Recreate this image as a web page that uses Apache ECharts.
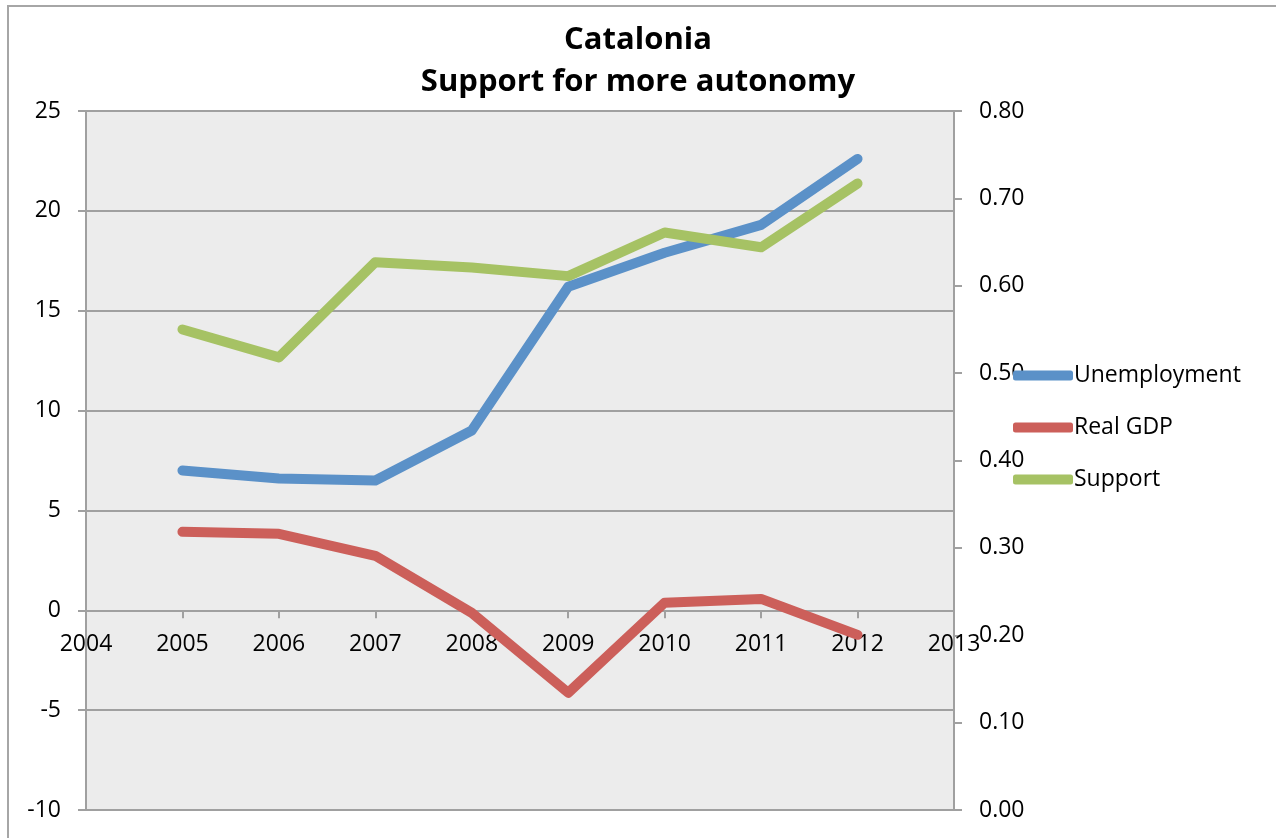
<!DOCTYPE html>
<html>
<head>
<meta charset="utf-8">
<title>Catalonia - Support for more autonomy</title>
<script src="https://cdn.jsdelivr.net/npm/echarts@6/dist/echarts.min.js"></script>
<style>
  html, body { margin: 0; padding: 0; background: #fff; overflow: hidden; }
  #frame {
    position: absolute; left: 7px; top: 5px;
    width: 1300px; height: 860px;
    border: 2px solid #a6a6a6;
  }
  #chart { position: absolute; left: 0; top: 0; width: 1276px; height: 838px; }
</style>
</head>
<body>
<div id="frame"></div>
<div id="chart"></div>
<script>
// data
const years = [2005, 2006, 2007, 2008, 2009, 2010, 2011, 2012];
const unemployment = [7.0, 6.6, 6.5, 9.0, 16.2, 17.9, 19.3, 22.6];
const realGdp = [3.93, 3.83, 2.73, -0.13, -4.13, 0.38, 0.57, -1.23];
const support = [0.550, 0.518, 0.627, 0.621, 0.611, 0.661, 0.644, 0.717];

const font = "'Open Sans', 'Noto Sans', sans-serif";
const gridColor = "#a0a0a0";

function pairs(vals) {
  return years.map((y, i) => [y, vals[i]]);
}

var chart = echarts.init(document.getElementById("chart"));
var option = {
  animation: false,
  textStyle: { fontFamily: font },
  title: {
    text: "Catalonia\nSupport for more autonomy",
    left: 633,
    textAlign: "center",
    top: 14,
    textStyle: {
      fontFamily: font,
      fontWeight: "bold",
      fontSize: 31,
      lineHeight: 42,
      color: "#000",
    },
  },
  legend: {
    orient: "vertical",
    left: 1008,
    top: 359,
    itemWidth: 60,
    itemHeight: 10,
    itemGap: 29,
    icon: "roundRect",
    textStyle: { fontFamily: font, fontSize: 23, color: "#000", padding: [0, 0, 0, -4] },
    data: ["Unemployment", "Real GDP", "Support"],
  },
  grid: {
    left: 86,
    right: 322,
    top: 111,
    bottom: 28,
    show: true,
    backgroundColor: "#ececec",
    borderWidth: 0,
    outerBoundsMode: "none",
  },
  xAxis: {
    type: "value",
    min: 2004,
    max: 2013,
    interval: 1,
    z: 0,
    // sits on the zero line of the left axis
    offset: -199.7,
    axisLine: { show: true, onZero: false, lineStyle: { color: gridColor, width: 2 } },
    axisTick: { show: true, inside: false, length: 8, lineStyle: { color: gridColor, width: 2 } },
    axisLabel: {
      color: "#000",
      fontSize: 23,
      fontFamily: font,
      margin: 23,
      formatter: (v) => String(v),
    },
    splitLine: { show: false },
  },
  yAxis: [
    {
      type: "value",
      min: -10,
      max: 25,
      interval: 5,
      axisLine: { show: true, lineStyle: { color: gridColor, width: 2 } },
      axisTick: { show: true, length: 8, lineStyle: { color: gridColor, width: 2 } },
      axisLabel: { color: "#000", fontSize: 23, fontFamily: font, margin: 25 },
      splitLine: { show: true, lineStyle: { color: gridColor, width: 2 } },
    },
    {
      type: "value",
      min: 0,
      max: 0.8,
      interval: 0.1,
      position: "right",
      axisLine: { show: true, lineStyle: { color: gridColor, width: 2 } },
      axisTick: { show: true, length: 8, lineStyle: { color: gridColor, width: 2 } },
      axisLabel: {
        color: "#000",
        fontSize: 23,
        fontFamily: font,
        margin: 25,
        formatter: (v) => v.toFixed(2),
      },
      splitLine: { show: false },
    },
  ],
  series: [
    {
      name: "Unemployment",
      type: "line",
      yAxisIndex: 0,
      data: pairs(unemployment),
      showSymbol: false,
      z: 5,
      color: "#5b91c8",
      lineStyle: { width: 10, cap: "round", join: "round" },
    },
    {
      name: "Real GDP",
      type: "line",
      yAxisIndex: 0,
      data: pairs(realGdp),
      showSymbol: false,
      z: 5,
      color: "#cc5f5a",
      lineStyle: { width: 10, cap: "round", join: "round" },
    },
    {
      name: "Support",
      type: "line",
      yAxisIndex: 1,
      data: pairs(support),
      showSymbol: false,
      z: 5,
      color: "#a6c264",
      lineStyle: { width: 10, cap: "round", join: "round" },
    },
  ],
};
chart.setOption(option);
</script>
</body>
</html>
